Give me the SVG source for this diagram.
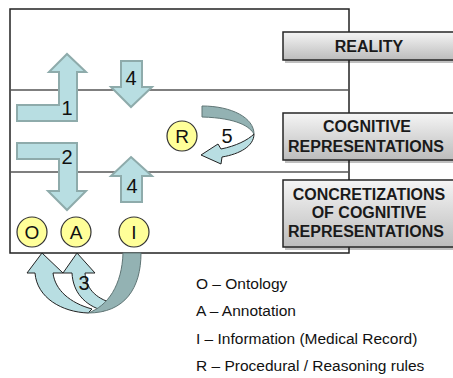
<svg xmlns="http://www.w3.org/2000/svg" width="453" height="378" viewBox="0 0 453 378">
<style>
.arr{fill:#b8dee2;stroke:#8eabab;stroke-width:2;stroke-linejoin:miter}
.dark{fill:#93b2b3;stroke:#5f7575;stroke-width:1}
.lite{fill:#b8dee2;stroke:#222;stroke-width:1}
.num{font-family:"Liberation Sans",Arial,sans-serif;font-size:20px;fill:#111;text-anchor:middle}
.circ{fill:#ffff99;stroke:#333;stroke-width:1.2}
.ctext{font-family:"Liberation Sans",Arial,sans-serif;font-size:19px;fill:#111;text-anchor:middle}
.lbl{fill:url(#g);stroke:#262626;stroke-width:1.5}
.shadow{fill:#000;opacity:0.25}
.ltext{font-family:"Liberation Sans",Arial,sans-serif;font-size:16px;font-weight:bold;fill:#1a1a1a;text-anchor:middle}
.leg{font-family:"Liberation Sans",Arial,sans-serif;font-size:15.5px;fill:#111}
</style>
<defs>
<linearGradient id="g" x1="0" y1="0" x2="0" y2="1">
<stop offset="0" stop-color="#f5f5f5"/>
<stop offset="1" stop-color="#bcbcbc"/>
</linearGradient>
</defs>
<g id="frame">
<rect x="10" y="9" width="339" height="244" fill="#fff" stroke="#222" stroke-width="1.5"/>
<line x1="10" y1="90" x2="349" y2="90" stroke="#555" stroke-width="1.5"/>
<line x1="10" y1="172" x2="349" y2="172" stroke="#555" stroke-width="1.5"/>
</g>
<g id="connectors">
<polygon id="arrow1" class="arr" points="17,105 59,105 59,72 49,72 67,54 86,72 77,72 77,121 17,121"/>
<polygon id="arrow2" class="arr" points="17,143 77,143 77,191 86,191 67,210 48,191 59,191 59,159 17,159"/>
<polygon id="arrow4down" class="arr" points="121,61 142,61 142,87 152,87 131,107 111,87 121,87"/>
<polygon id="arrow4up" class="arr" points="131,157 152,176 142,176 142,202 121,202 121,176 111,176"/>
<g id="arrow5">
<path class="dark" d="M202,106 C232,106 254,118 254,134 C250,127 238,118 202,117 Z"/>
<path class="lite" d="M254,134 C254,146 240,154 222,157 L221,164 L201,155 L218,144 L221,149 C236,146 248,140 254,134 Z"/>
</g>
<g id="arrow3">
<path class="lite" d="M42,253 L63,273 L53,273 C55,290 70,303 92,309 L88,313 C62,312 37,298 35,273 L27,273 Z"/>
<path class="lite" d="M77,253 L95,273 L85,273 C86,288 95,298 112,303 L104,311 C84,305 73,292 72,273 L63,273 Z"/>
<path class="dark" d="M141,253 C141,288 125,313 88,313 C108,306 122,285 123,253 Z"/>
</g>
<text class="num" x="67" y="115">1</text>
<text class="num" x="67" y="164">2</text>
<text class="num" x="84" y="290">3</text>
<text class="num" x="131" y="85">4</text>
<text class="num" x="132" y="193">4</text>
<text class="num" x="227" y="143">5</text>
</g>
<g id="nodeO"><circle class="circ" cx="32" cy="232" r="15"/><text class="ctext" x="32" y="239">O</text></g>
<g id="nodeA"><circle class="circ" cx="76" cy="232" r="15"/><text class="ctext" x="76" y="239">A</text></g>
<g id="nodeI"><circle class="circ" cx="134" cy="232" r="15"/><text class="ctext" x="134" y="239">I</text></g>
<g id="nodeR"><circle class="circ" cx="182" cy="136" r="15"/><text class="ctext" x="182" y="143">R</text></g>
<g id="reality">
<rect class="shadow" x="285" y="35" width="175" height="28"/>
<rect class="lbl" x="283" y="32" width="175" height="28"/>
<text class="ltext" x="369" y="52">REALITY</text>
</g>
<g id="cognitive">
<rect class="shadow" x="285" y="116" width="175" height="47"/>
<rect class="lbl" x="283" y="113" width="175" height="47"/>
<text class="ltext" x="367" y="132">COGNITIVE</text>
<text class="ltext" x="366" y="152">REPRESENTATIONS</text>
</g>
<g id="concretizations">
<rect class="shadow" x="285" y="183" width="175" height="67"/>
<rect class="lbl" x="283" y="180" width="175" height="67"/>
<text class="ltext" x="369" y="200">CONCRETIZATIONS</text>
<text class="ltext" x="369" y="218">OF COGNITIVE</text>
<text class="ltext" x="366" y="237">REPRESENTATIONS</text>
</g>
<g id="legend">
<text class="leg" x="196" y="289">O – Ontology</text>
<text class="leg" x="196" y="316">A – Annotation</text>
<text class="leg" x="196" y="344">I – Information (Medical Record)</text>
<text class="leg" x="196" y="371">R – Procedural / Reasoning rules</text>
</g>
</svg>
